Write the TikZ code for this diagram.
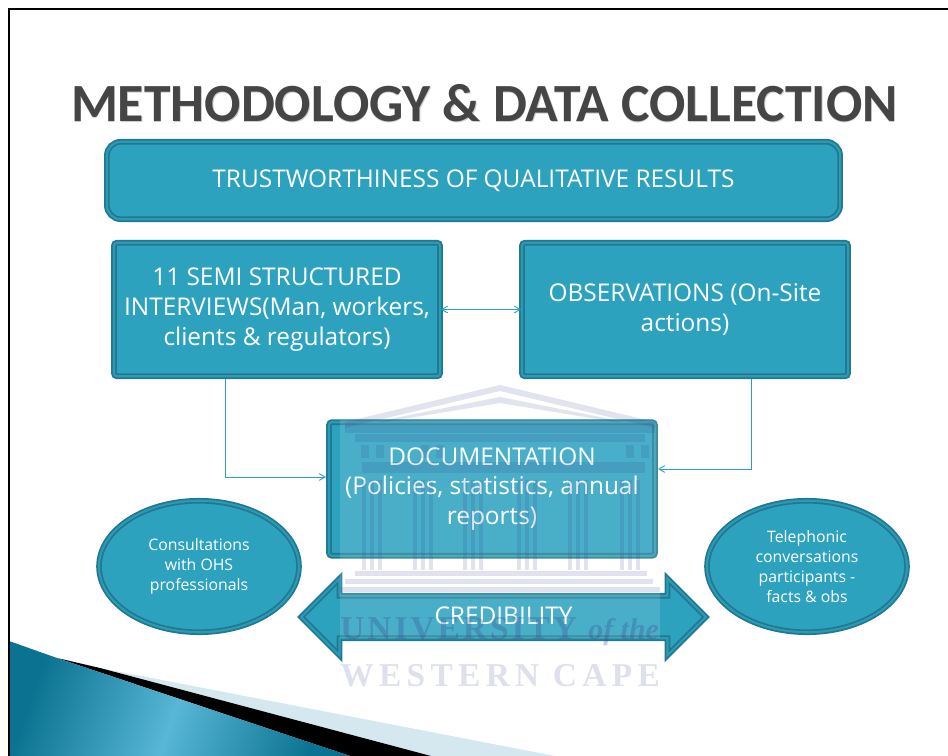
\documentclass[tikz,border=0pt]{standalone}
\usepackage{fontspec}
\setmainfont{Open Sans}
\newfontfamily\titlefont{Carlito}
\newfontfamily\crestfont[LetterSpace=9]{Liberation Serif}
\newfontfamily\crestitalic{Liberation Serif}
\newfontfamily\capefont[LetterSpace=16]{Liberation Serif}
\usetikzlibrary{%
  arrows,%
  shapes,%
  shapes.arrows,%
  positioning,%
  calc
}
\definecolor{boxfill}{HTML}{2CA2BF}
\definecolor{boxline}{HTML}{21788F}
\definecolor{crest}{HTML}{34408F}
\definecolor{swoosh}{HTML}{D5E8F0}
\definecolor{cornerdark}{HTML}{0B7391}
\definecolor{cornerlight}{HTML}{58B6D6}

\begin{document}
\begin{tikzpicture}
[x=0.02cm, y=-0.02cm, >=angle 60,
tealshape/.style={draw=boxline, line width=1pt, double=boxfill!80!boxline, double distance=1.2pt, fill=boxfill, text=white, inner sep=0pt, align=center, font=\fontsize{13.9}{17}\selectfont},
squarebox/.style={tealshape, rectangle, rounded corners=1.5pt, minimum width=6.52cm, minimum height=2.67cm},
talkoval/.style={tealshape, ellipse, minimum width=4cm, minimum height=2.63cm, font=\fontsize{9}{11.5}\selectfont},
link/.style={draw=boxfill, line width=0.5pt},
crestpart/.style={fill=crest, opacity=0.15}]

\useasboundingbox (0,0) rectangle (948,756);

% slide corner
\fill[swoosh] (100,668) -- (555,756) -- (431,756) -- cycle;
\fill[black] (57,658) -- (100,668) -- (431,756) -- (350,756) -- cycle;
\shade[left color=cornerdark, right color=cornerdark, middle color=cornerlight, shading angle=70] (9,641) -- (57,658) -- (350,756) -- (9,756) -- cycle;
\draw[line width=1.2pt] (948,9) -- (9,9) -- (9,756);

% heading
\node[text=black!20, font=\titlefont\bfseries\fontsize{30.6}{36}\selectfont] (titleshade) at (485,104) {METHODOLOGY \& DATA COLLECTION};
\node[text=black!73, font=\titlefont\bfseries\fontsize{30.6}{36}\selectfont] (title) at (484.5,103) {METHODOLOGY \& DATA COLLECTION};

\node[tealshape, rectangle, rounded corners=8pt, minimum width=14.67cm, minimum height=1.55cm] (trust) at (473.5,180.5) {TRUSTWORTHINESS OF QUALITATIVE RESULTS};
\node[squarebox] (interviews) at (277,309.5) {11 SEMI STRUCTURED\\INTERVIEWS(Man, workers,\\clients \& regulators)};
\node[squarebox] (observations) at (685,309.5) {OBSERVATIONS (On-Site\\actions)};
\node[squarebox] (documents) at (492,489) {DOCUMENTATION\\(Policies, statistics, annual\\reports)};
\node[talkoval] (consult) at (199,566.5) {Consultations\\with OHS\\professionals};
\node[talkoval] (phone) at (807,566.5) {Telephonic\\conversations\\participants -\\facts \& obs};
\node[tealshape, double arrow, inner ysep=2.2pt, text depth=2pt, minimum width=1.54cm, minimum height=8.1cm] (credibility) at (503.5,617) {CREDIBILITY};

\coordinate (interviewsout) at (225,379);
\coordinate (observationsout) at (751,379);
\coordinate (documentsleft) at (326,477);
\coordinate (documentsright) at (658,469);

\draw[link, <->] (interviews.east) -- (observations.west);
\draw[link, ->] (interviewsout) |- (documentsleft);
\draw[link, ->] (observationsout) |- (documentsright);

% university crest
\fill[white, opacity=0.14] (340,420) rectangle (660,638);
\fill[crestpart] (345,422) -- (500,385) -- (655,422) -- (655,428) -- (500,391) -- (345,428) -- cycle;
\fill[crestpart] (375,422) -- (500,397) -- (625,422) -- (615,422) -- (500,403) -- (385,422) -- cycle;
\fill[crestpart] (345,425) rectangle (655,433);
\fill[crestpart] (355,434) rectangle (645,442);
\foreach \x in {365,380,425,440,630,645} \fill[crestpart] (\x-4,445) rectangle (\x+4,458);
\fill[crestpart] (362,462) rectangle (645,473);
\foreach \x in {362,413,463,517,568,620}
  \foreach \y in {0,8,16} \fill[crestpart] (\x+\y,480) rectangle (\x+\y+4,570);
\fill[crestpart] (355,571) rectangle (647,576);
\fill[crestpart] (345,579) rectangle (653,584);
\fill[crestpart] (340,587) rectangle (660,592);
\node[text=crest, opacity=0.27, inner sep=0pt, anchor=base west, font=\crestfont\bfseries\fontsize{19}{22}\selectfont] (university) at (340,640) {UNIVERSITY {\crestitalic\itshape\fontsize{17}{22}\selectfont of the}};
\node[text=crest, opacity=0.16, inner sep=0pt, anchor=base west, font=\capefont\bfseries\fontsize{19}{22}\selectfont] (westerncape) at (340,687) {WESTERN CAPE};
\end{tikzpicture}
\end{document}
